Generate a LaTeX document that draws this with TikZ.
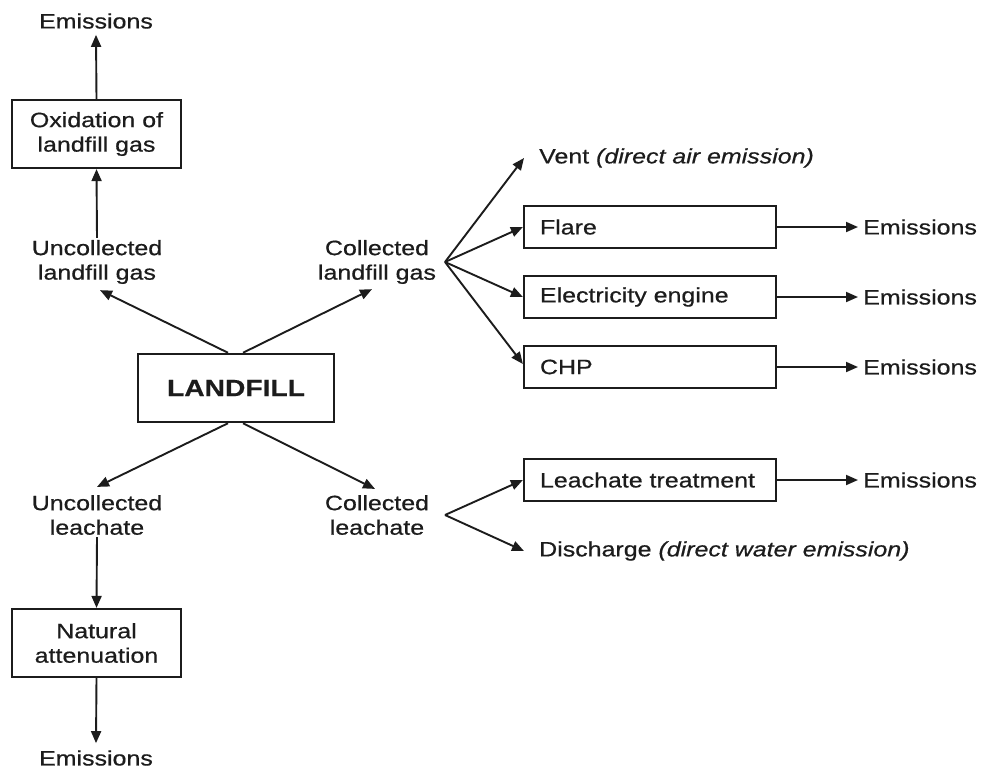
\documentclass[tikz,border=0pt]{standalone}
\usepackage{fontspec}
\setmainfont{Liberation Sans}[FakeStretch=1.2,FakeBold=0.6]
\usetikzlibrary{arrows.meta,calc}
\definecolor{ink}{HTML}{1C1C1C}
\begin{document}
\begin{tikzpicture}[x=1pt,y=-1pt,
  every node/.style={text=ink, font=\fontsize{20.8}{24.5}\selectfont},
  box/.style={draw=ink, line width=2.2pt, minimum width=169pt, minimum height=68pt,
    align=center, inner sep=0pt},
  wide/.style={draw=ink, line width=2.2pt, text width=220pt, inner xsep=16pt,
    inner ysep=0pt, minimum height=42pt, align=left},
  txt/.style={align=center, inner sep=2pt},
  flow/.style={draw=ink, line width=1.9pt, -{Triangle[length=12pt,width=10pt]}}]
\useasboundingbox (0,0) rectangle (983,771);

% left column: gas side
\node[txt, inner sep=6pt] (e1) at (96,21) {Emissions};
\node[box] (ox) at (96.5,134) {Oxidation of\\landfill gas};
\node[txt] (ulg) at (97,262) {Uncollected\\landfill gas};
\node[txt] (clg) at (377,262) {Collected\\landfill gas};

% the landfill itself
\node[draw=ink, line width=2.5pt, minimum width=196pt, minimum height=68pt,
  font=\fontsize{23.5}{27}\selectfont\bfseries] (lf) at (236,388) {LANDFILL};

% left column: leachate side
\node[txt] (ul) at (97,515) {Uncollected\\leachate};
\node[txt] (cl) at (377,515) {Collected\\leachate};
\node[box] (nat) at (96.5,643) {Natural\\attenuation};
\node[txt, inner sep=7pt] (e2) at (96,758) {Emissions};

% collected gas routes
\coordinate (gfan) at (445,262);
\node[anchor=west, inner xsep=15pt, inner ysep=2pt] (vent) at (524,158)
  {Vent \textit{(direct air emission)}};
\node[wide] (flare) at (650,227) {Flare};
\node[wide] (elec) at (650,297) {Electricity engine};
\node[wide] (chp) at (650,367) {CHP};
\node[anchor=west, inner xsep=5pt] (ef) at (858,227) {Emissions};
\node[anchor=west, inner xsep=5pt] (ee) at (858,297) {Emissions};
\node[anchor=west, inner xsep=5pt] (ec) at (858,367) {Emissions};

% collected leachate routes
\coordinate (lfan) at (445,515);
\node[wide] (lt) at (650,480) {Leachate treatment};
\node[anchor=west, inner xsep=5pt] (el) at (858,480) {Emissions};
\node[anchor=west, inner xsep=15pt, inner ysep=2pt] (dis) at (524,551)
  {Discharge \textit{(direct water emission)}};

% connectors
\draw[flow] (ox.north) -- (e1.south);
\draw[flow] (ulg.north) -- (ox.south);
\draw[flow] ($(lf.north)+(-8,0)$) -- ($(ulg.south)+(3,4)$);
\draw[flow] ($(lf.north)+(7,0)$) -- ($(clg.south)+(-5,3)$);
\draw[flow] ($(lf.south)+(-8,0)$) -- ($(ul.north)+(0,-6)$);
\draw[flow] ($(lf.south)+(7,0)$) -- ($(cl.north)+(-2,-4)$);
\draw[flow] (ul.south) -- (nat.north);
\draw[flow] (nat.south) -- (e2.north);

\draw[flow] (gfan) -- (vent.west);
\draw[flow] (gfan) -- (flare.west);
\draw[flow] (gfan) -- (elec.west);
\draw[flow] (gfan) -- ($(chp.west)+(0,-3)$);
\draw[flow] (flare.east) -- (ef.west);
\draw[flow] (elec.east) -- (ee.west);
\draw[flow] (chp.east) -- (ec.west);

\draw[flow] (lfan) -- (lt.west);
\draw[flow] (lfan) -- (dis.west);
\draw[flow] (lt.east) -- (el.west);
\end{tikzpicture}
\end{document}
